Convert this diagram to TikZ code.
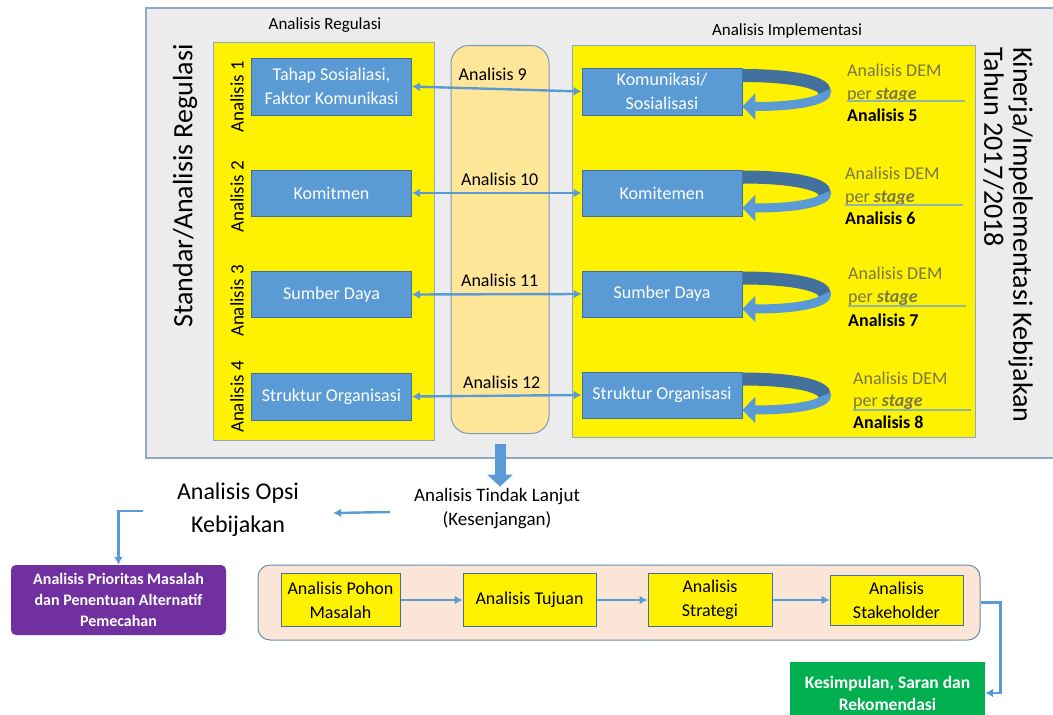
\documentclass[tikz,border=0pt]{standalone}
\usepackage{fontspec}
\setmainfont{Carlito}
\usepackage{tikz}
\usetikzlibrary{arrows.meta,positioning,calc}
\definecolor{boxblue}{HTML}{5B9BD5}
\definecolor{boxedge}{HTML}{41719C}
\definecolor{frameedge}{HTML}{8EA9C8}
\definecolor{panelgray}{HTML}{ECECEC}
\definecolor{tanfill}{HTML}{FFE699}
\definecolor{peach}{HTML}{FBE5D6}
\definecolor{purplebox}{HTML}{7030A0}
\definecolor{greenbox}{HTML}{00B050}
\definecolor{demgray}{HTML}{77774A}
\definecolor{demline}{HTML}{8DB8A8}

\begin{document}
\begin{tikzpicture}
[x=1pt,y=-1pt]
\tikzset{
	txt/.style = {inner sep=0, text=black, font=\fontsize{17}{22}\selectfont},
	panel/.style = {draw=frameedge, line width=1pt, fill=yellow, inner sep=0},
	bluebox/.style = {draw=boxedge, line width=0.8pt, fill=boxblue, text=white, align=center, minimum width=160pt, minimum height=46pt, inner sep=0, font=\fontsize{18}{24}\selectfont},
	side/.style = {rotate=90, inner sep=0, font=\fontsize{19}{22}\selectfont},
	link/.style = {boxblue, line width=2.4pt, -{Latex[length=8pt,width=9pt]}},
	twoway/.style = {link, {Latex[length=8pt,width=9pt]}-{Latex[length=8pt,width=9pt]}},
	uturn/.style = {boxblue, line width=9pt, -{Triangle[length=13pt,width=26pt]}},
	uturntop/.style = {boxedge, line width=13pt},
	dem/.style = {anchor=west, inner sep=0, text=demgray, font=\fontsize{18}{22}\selectfont},
	demno/.style = {dem, text=black, font=\fontsize{18}{22}\selectfont\bfseries},
	demrule/.style = {demline, line width=1.2pt},
	stepbox/.style = {draw=boxedge, line width=1pt, fill=yellow, align=center, inner sep=0, minimum height=53pt, font=\fontsize{18}{24}\selectfont},
	whitebox/.style = {text=white, align=center, inner sep=0, font=\fontsize{16}{21}\selectfont\bfseries}
}
\useasboundingbox (0,0) rectangle (1053,715);
\clip (0,0) rectangle (1053,715);

% upper panel
\draw[draw=frameedge, line width=1.5pt, fill=panelgray] (146,8) rectangle (1062,458);
\node[txt] (regt) at (325,25) {Analisis Regulasi};
\node[txt] (impt) at (787,31) {Analisis Implementasi};
\node[panel, minimum width=221pt, minimum height=398pt] (reg) at (323.5,241) {};
\node[panel, minimum width=403pt, minimum height=392pt] (imp) at (773.5,241) {};
\node[draw=boxedge!70, line width=1pt, fill=tanfill, rounded corners=18pt, minimum width=98pt, minimum height=388pt] (tan) at (500,239.5) {};

\node[rotate=90, inner sep=0, font=\fontsize{28}{30}\selectfont] (std) at (185,186) {Standar/Analisis Regulasi};
\node[rotate=-90, anchor=north west, align=left, inner sep=0, font=\fontsize{28}{29}\selectfont] (kin) at (1033,47) {Kinerja/Impelementasi Kebijakan\\Tahun 2017/2018};

\node[side] (s1) at (237,97) {Analisis 1};
\node[side] (s2) at (237,197) {Analisis 2};
\node[side] (s3) at (237,301) {Analisis 3};
\node[side] (s4) at (237,397) {Analisis 4};

% regulasi vs implementasi
\node[bluebox, minimum height=57pt] (r1) at (331.5,86.5) {Tahap Sosialiasi,\\Faktor Komunikasi};
\node[bluebox] (r2) at (331.5,193) {Komitmen};
\node[bluebox] (r3) at (331.5,294.5) {Sumber Daya};
\node[bluebox, minimum height=47pt] (r4) at (331.5,396.5) {Struktur Organisasi};
\node[bluebox, minimum height=47pt] (i1) at (662,91.5) {Komunikasi/\\Sosialisasi};
\node[bluebox] (i2) at (662,193) {Komitemen};
\node[bluebox] (i3) at (662,294) {Sumber Daya};
\node[bluebox] (i4) at (662,395) {Struktur Organisasi};

\path[every node/.style={txt, font=\fontsize{18}{22}\selectfont}]
	(r1.east) edge[twoway] node[above=7pt, xshift=-4pt] {Analisis 9} (i1.west)
	(r2.east) edge[twoway] node[above=6pt, xshift=3pt] {Analisis 10} (i2.west)
	(r3.east) edge[twoway] node[above=6pt, xshift=3pt] {Analisis 11} (i3.west)
	(r4.east) edge[twoway] node[above=6pt, xshift=5pt] {Analisis 12} (i4.west)
	;

% DEM loops
\draw[uturn] ([yshift=15pt]i1.east) .. controls +(110pt,0) and +(110pt,0) .. ([yshift=-15pt]i1.east);
\draw[uturntop] ([yshift=16pt]i1.east) .. controls +(55pt,0) and +(0,8pt) .. ([xshift=82pt]i1.east);
\draw[uturn] ([yshift=15pt]i2.east) .. controls +(110pt,0) and +(110pt,0) .. ([yshift=-15pt]i2.east);
\draw[uturntop] ([yshift=16pt]i2.east) .. controls +(55pt,0) and +(0,8pt) .. ([xshift=82pt]i2.east);
\draw[uturn] ([yshift=15pt]i3.east) .. controls +(110pt,0) and +(110pt,0) .. ([yshift=-15pt]i3.east);
\draw[uturntop] ([yshift=16pt]i3.east) .. controls +(55pt,0) and +(0,8pt) .. ([xshift=82pt]i3.east);
\draw[uturn] ([yshift=15pt]i4.east) .. controls +(110pt,0) and +(110pt,0) .. ([yshift=-15pt]i4.east);
\draw[uturntop] ([yshift=16pt]i4.east) .. controls +(55pt,0) and +(0,8pt) .. ([xshift=82pt]i4.east);

\node[dem] (d1) at (847,70) {Analisis DEM};
\node[dem] (p1) at (847,95) {per \textbf{\textit{stage}}};
\node[demno] (a5) at (847,115) {Analisis 5};
\draw[demrule] ([yshift=-6pt]p1.west) -- ++(118,0);
\node[dem] (d2) at (845,173) {Analisis DEM};
\node[dem] (p2) at (845,198) {per \textbf{\textit{stage}}};
\node[demno] (a6) at (845,218) {Analisis 6};
\draw[demrule] ([yshift=-7pt]p2.west) -- ++(118,0);
\node[dem] (d3) at (848,273) {Analisis DEM};
\node[dem] (p3) at (848,298) {per \textbf{\textit{stage}}};
\node[demno] (a7) at (848,320) {Analisis 7};
\draw[demrule] ([yshift=-8pt]p3.west) -- ++(118,0);
\node[dem] (d4) at (853,378) {Analisis DEM};
\node[dem] (p4) at (853,402) {per \textbf{\textit{stage}}};
\node[demno] (a8) at (853,422) {Analisis 8};
\draw[demrule] ([yshift=-8pt]p4.west) -- ++(118,0);

% tindak lanjut
\node[align=center, inner sep=0, font=\fontsize{19}{24}\selectfont] (tl) at (497,509) {Analisis Tindak Lanjut\\(Kesenjangan)};
\node[align=center, inner sep=0, font=\fontsize{24}{33}\selectfont] (opsi) at (238,510) {Analisis Opsi\\Kebijakan};
\draw[boxblue, line width=11pt, -{Triangle[length=12pt,width=25pt]}] ([yshift=-10pt]tan.south) -- ([yshift=2pt]tl.north -| tan.south);
\draw[link] ([xshift=-24pt,yshift=-3pt]tl.west) -- ([xshift=34pt,yshift=-3pt]opsi.east);

\node[whitebox, fill=purplebox, rounded corners=5pt, minimum width=215pt, minimum height=70pt] (prio) at (118.5,600) {Analisis Prioritas Masalah\\dan Penentuan Alternatif\\Pemecahan};
\draw[link] ([xshift=-34pt,yshift=-1pt]opsi.west) -| (prio.north);

% proses
\node[draw=boxedge!80, line width=1pt, fill=peach, rounded corners=12pt, minimum width=722pt, minimum height=75pt] (proc) at (619,602.5) {};
\node[stepbox, minimum width=119pt] (q1) at (340.5,600) {Analisis Pohon\\Masalah};
\node[stepbox, minimum width=133pt] (q2) at (529.5,600) {Analisis Tujuan};
\node[stepbox, minimum width=124pt] (q3) at (710,600) {Analisis\\Strategi};
\node[stepbox, minimum width=133pt, minimum height=50pt] (q4) at (896.5,600) {Analisis\\Stakeholder};
\draw[link] (q1.east) -- (q2.west);
\draw[link] (q2.east) -- (q3.west);
\draw[link] (q3.east) -- (q4.west);

\node[whitebox, fill=greenbox, minimum width=195pt, minimum height=62pt, font=\fontsize{17.5}{22}\selectfont\bfseries] (kes) at (887.5,693) {Kesimpulan, Saran dan\\Rekomendasi};
\draw[link] (proc.east) -- ++(20,0) |- (kes.east);

\end{tikzpicture}
\end{document}
